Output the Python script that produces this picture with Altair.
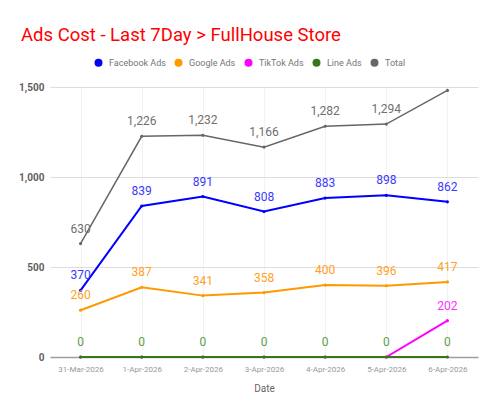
import altair as alt
import pandas as pd

dates = ["31-Mar-2026", "1-Apr-2026", "2-Apr-2026", "3-Apr-2026", "4-Apr-2026", "5-Apr-2026", "6-Apr-2026"]
series = ["Facebook Ads", "Google Ads", "TikTok Ads", "Line Ads", "Total"]
facebook = [370, 839, 891, 808, 883, 898, 862]
google = [260, 387, 341, 358, 400, 396, 417]
tiktok = [0, 0, 0, 0, 0, 0, 202]
line_ads = [0, 0, 0, 0, 0, 0, 0]
total = [630, 1226, 1232, 1166, 1282, 1294, 1481]
y_ticks = [0, 500, 1000, 1500]

colors = ["#0000ff", "#ff9900", "#ff00ff", "#38761d", "#666666"]
label_colors = ["#3a3aff", "#ffa01f", "#ff2bff", "#5e9c44", "#6f6f6f"]

values = {"Facebook Ads": facebook, "Google Ads": google, "TikTok Ads": tiktok,
          "Line Ads": line_ads, "Total": total}
rows = []
for s in series:
    for d, v in zip(dates, values[s]):
        rows.append({"date": d, "series": s, "value": v})
df = pd.DataFrame(rows)

# labels that the original chart shows
lab = df[~((df.series == "TikTok Ads") & (df.value == 0))]
lab = lab[~((lab.series == "Total") & (lab.date == dates[-1]))]

x_enc = alt.X("date:N", sort=dates, scale=alt.Scale(type="point", padding=0.5),
              axis=alt.Axis(labelAngle=0, labelFontSize=8, labelColor="#999999", labelFont="Roboto",
                            title="Date", titleFontSize=10, titleColor="#666666", titleFont="Roboto",
                            titleFontWeight="normal", titlePadding=10,
                            domainColor="#9e9e9e", domainWidth=1.5, ticks=False,
                            grid=True, gridColor="#f2f2f2", labelPadding=8))
y_enc = alt.Y("value:Q", scale=alt.Scale(domain=[0, 1500], nice=False),
              axis=alt.Axis(values=y_ticks, labelExpr="format(datum.value, ',')", title=None,
                            domain=False, ticks=False, gridColor="#dddddd", labelFontSize=10,
                            labelColor="#5f5f5f", labelFont="Roboto", labelFontWeight="bold",
                            labelPadding=6))
color_enc = alt.Color("series:N", scale=alt.Scale(domain=series, range=colors),
                      legend=alt.Legend(title=None, orient="none", direction="horizontal",
                                        legendX=44, legendY=-29, symbolType="circle",
                                        symbolSize=64, symbolStrokeWidth=0, labelFontSize=9,
                                        labelColor="#757575", labelFont="Roboto",
                                        columnPadding=8, labelOffset=6))

draw_order = ["Total", "Facebook Ads", "Google Ads", "TikTok Ads", "Line Ads"]
widths = {"Total": 1.5, "Facebook Ads": 2, "Google Ads": 2, "TikTok Ads": 2, "Line Ads": 2}
layers = []
base = alt.Chart(df)
for s in draw_order:
    layers.append(
        base.transform_filter(alt.datum.series == s)
        .mark_line(strokeWidth=widths[s], point=alt.OverlayMarkDef(size=10, filled=True))
        .encode(x=x_enc, y=y_enc, color=color_enc)
    )
for s, lc in zip(series, label_colors):
    layers.append(
        alt.Chart(lab).transform_filter(alt.datum.series == s)
        .mark_text(baseline="bottom", dy=-8, fontSize=12, font="Roboto", color=lc)
        .encode(x=x_enc, y=y_enc, text=alt.Text("value:Q", format=","))
    )

chart = alt.layer(*layers).properties(
    width=428, height=270,
    autosize=alt.AutoSizeParams(type="none"),
    padding={"left": 50, "top": 87, "right": 22, "bottom": 58},
    title=alt.TitleParams("Ads Cost - Last 7Day > FullHouse Store", anchor="start", fontSize=18.5,
                          color="#ff0000", font="Roboto", fontWeight="normal", frame="group",
                          dx=-29, dy=17, baseline="alphabetic", offset=16),
).configure_view(stroke=None)

chart.save("out.html", embed_options={"renderer": "svg", "actions": False})
